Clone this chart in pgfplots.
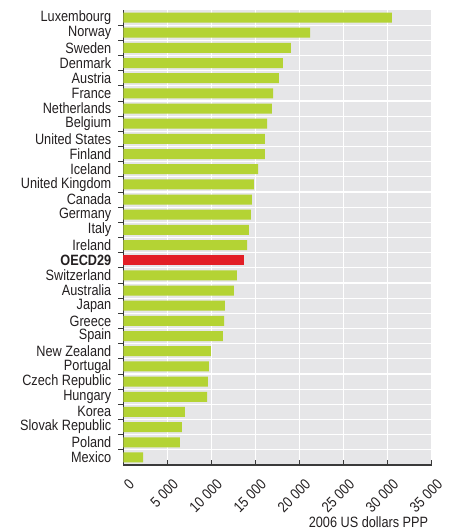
\documentclass[border=0pt]{standalone}
\usepackage{pgfplots}
\pgfplotsset{compat=1.18}
\usepackage{fontspec}
\setmainfont{Liberation Sans}[FakeStretch=0.85]
\definecolor{bargreen}{HTML}{B4D334}
\definecolor{barred}{HTML}{E21E26}
\definecolor{bggray}{HTML}{E6E6E8}
\definecolor{axisdark}{HTML}{3A3A3A}
\definecolor{txt}{HTML}{231F20}
\begin{document}
\begin{tikzpicture}
\useasboundingbox (-123.3bp,-66bp) rectangle (328.7bp,465bp);
\begin{axis}[
  at={(0,0)}, anchor=south west,
  scale only axis,
  width=308.4bp, height=455bp,
  xmin=0, xmax=35000, ymin=-0.5, ymax=29.5,
  scaled x ticks=false,
  axis lines*=left,
  axis line style={axisdark, line width=1.2bp},
  axis background/.style={fill=bggray},
  xtick={0,5000,10000,15000,20000,25000,30000,35000},
  xticklabels={0,5 000,10 000,15 000,20 000,25 000,30 000,35 000},
  ytick={0,...,29},
  yticklabels={Mexico,Poland,Slovak Republic,Korea,Hungary,Czech Republic,Portugal,New Zealand,Spain,Greece,Japan,Australia,Switzerland,\textbf{OECD29},Ireland,Italy,Germany,Canada,United Kingdom,Iceland,Finland,United States,Belgium,Netherlands,France,Austria,Denmark,Sweden,Norway,Luxembourg},
  minor ytick={0.5,1.5,...,28.5},
  tick align=inside,
  major tick length=5bp,
  minor tick length=5bp,
  y tick style={draw=none},
  minor y tick style={draw=axisdark, line width=0.8bp},
  x tick style={axisdark, line width=0.8bp},
  xmajorgrids, yminorgrids,
  major grid style={white, line width=1.3bp},
  minor grid style={white, line width=1.3bp},
  tick label style={font=\fontsize{15}{17}\selectfont, text=txt},
  yticklabel style={xshift=-3.5bp},
  xticklabel style={rotate=45, anchor=east, xshift=-3bp, yshift=-18bp},
  xlabel={2006 US dollars PPP},
  xlabel style={font=\fontsize{15}{17}\selectfont, text=txt, at={(axis description cs:1,0)}, anchor=north east, yshift=-48bp},
  xbar, bar shift=0pt, bar width=10bp,
  clip=false,
]
\addplot[fill=bargreen, draw=none] coordinates {
(2240,0) (6430,1) (6660,2) (7000,3) (9500,4) (9610,5) (9720,6) (9950,7)
(11310,8) (11430,9) (11540,10) (12560,11) (12900,12)
(14040,14) (14260,15) (14490,16) (14600,17) (14830,18) (15290,19)
(16080,20) (16080,21) (16310,22) (16870,23) (16990,24) (17670,25)
(18120,26) (19030,27) (21190,28) (30490,29)};
\addplot[fill=barred, draw=none] coordinates {(13700,13)};
\end{axis}
\end{tikzpicture}
\end{document}
